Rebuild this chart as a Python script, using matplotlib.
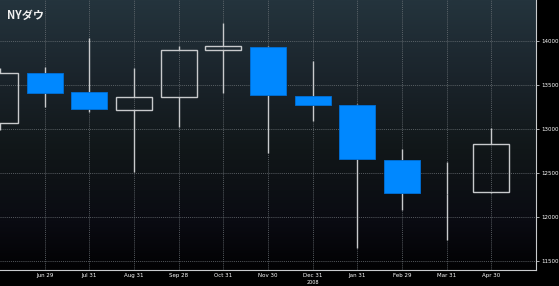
import numpy as np
import matplotlib.pyplot as plt
from matplotlib.colors import LinearSegmentedColormap

plt.rcParams['font.family'] = ['Noto Sans CJK JP', 'DejaVu Sans']

# monthly candles, May 2007 .. Apr 2008
months = ["May 31", "Jun 29", "Jul 31", "Aug 31", "Sep 28", "Oct 31", "Nov 30",
          "Dec 31", "Jan 31", "Feb 29", "Mar 31", "Apr 30"]
opens = [13062, 13637, 13418, 13211, 13362, 13895, 13925, 13373, 13267, 12644, 12264, 12281]
highs = [13692, 13698, 14027, 13694, 13935, 14197, 13935, 13773, 13282, 12772, 12628, 13007]
lows = [12983, 13245, 13195, 12515, 13025, 13410, 12730, 13093, 11646, 12080, 11740, 12270]
closes = [13630, 13410, 13222, 13365, 13895, 13936, 13381, 13271, 12662, 12277, 12264, 12832]
yticks = [11500, 12000, 12500, 13000, 13500, 14000]
year_label = "2008"

W, H = 559, 286
fig = plt.figure(figsize=(W / 100, H / 100), dpi=100, facecolor="black")
ax = fig.add_axes([0, 1 - 270 / H, 536 / W, 270 / H])

x = np.arange(len(months)) - 1
ax.set_xlim(-1, 11)
ax.set_ylim(11400, 14461)

# background gradient
bg = LinearSegmentedColormap.from_list("bg", [(0.0, "#020203"), (0.18, "#0a0b12"),
                                              (0.45, "#111719"), (0.7, "#1a232a"),
                                              (1.0, "#24343d")])
grad = np.linspace(0, 1, 256).reshape(-1, 1)
ax.imshow(grad, cmap=bg, aspect="auto", origin="lower",
          extent=[-1, 11, 11400, 14461], zorder=0)

for yv in yticks:
    ax.axhline(yv, color="#70767b", lw=0.5, ls=(0, (1.5, 1.5)), zorder=1)
for xv in x[1:]:
    ax.axvline(xv, color="#70767b", lw=0.5, ls=(0, (1.5, 1.5)), zorder=1)

w = 0.8
for xi, o, h, l, c in zip(x, opens, highs, lows, closes):
    top, bot = max(o, c), min(o, c)
    ax.vlines(xi, top, h, color="#c8cacc", lw=1.0, zorder=2)
    ax.vlines(xi, l, bot, color="#c8cacc", lw=1.0, zorder=2)
    if c == o:
        continue
    if c > o:
        ax.bar(xi, c - o, bottom=o, width=w, facecolor="none",
               edgecolor="#c8cacc", lw=1.0, zorder=3)
    else:
        ax.bar(xi, o - c, bottom=c, width=w, facecolor="#0088ff",
               edgecolor="#0070d8", lw=0.6, zorder=3)

ax.set_xticks(x[1:])
ax.set_xticklabels(months[1:], fontsize=4, color="white", family="DejaVu Sans")
ax.yaxis.tick_right()
ax.set_yticks(yticks)
ax.set_yticklabels([str(v) for v in yticks], fontsize=4, color="white", family="DejaVu Sans")
ax.tick_params(axis="both", length=2.5, width=0.6, color="#c8cacc", pad=1.5)
ax.tick_params(axis="x", length=0, pad=2.5)
for s in ["top", "left"]:
    ax.spines[s].set_visible(False)
ax.spines["right"].set_color("#c8cacc")
ax.spines["bottom"].set_color("#c8cacc")
ax.spines["right"].set_linewidth(0.8)
ax.spines["bottom"].set_linewidth(0.8)

ax.text(x[7], -0.047, year_label, transform=ax.get_xaxis_transform(), ha="center",
        va="center", fontsize=3.5, color="white", family="DejaVu Sans")
ax.text(7 / 536, 1 - 15 / 270, "NYダウ", transform=ax.transAxes, fontsize=8,
        fontweight="bold", color="#f0f0f0", va="center", ha="left")

fig.savefig("out.png", dpi=100, facecolor="black")
